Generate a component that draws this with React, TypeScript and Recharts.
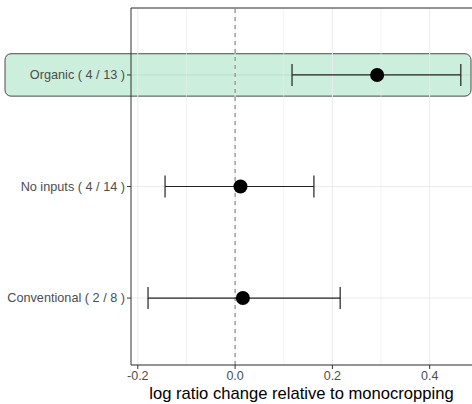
import React from "react";
import {
  ScatterChart,
  Scatter,
  XAxis,
  YAxis,
  CartesianGrid,
  ReferenceLine,
  ReferenceArea,
  ErrorBar,
  Cell,
} from "recharts";

const categories = ["Organic ( 4 / 13 )", "No inputs ( 4 / 14 )", "Conventional ( 2 / 8 )"];
const estimates = [0.292, 0.011, 0.016];
const lowers = [0.117, -0.144, -0.179];
const uppers = [0.464, 0.162, 0.216];
const pointColors = ["#000", "#000", "#000"];

const xTicks = [-0.2, 0, 0.2, 0.4];
const xGrid = [-0.2, -0.1, 0, 0.1, 0.2, 0.3, 0.4];
const highlighted = 1;

const data = categories.map((c, i) => ({
  name: c,
  pos: i + 1,
  est: estimates[i],
  err: [estimates[i] - lowers[i], uppers[i] - estimates[i]],
}));

const font = "'Liberation Sans', Arial, sans-serif";

const Highlight = (p: any) => {
  const right = p.x + p.width;
  return (
    <rect
      x={5}
      y={p.y}
      width={right - 1 - 5}
      height={p.height}
      rx={6}
      ry={6}
      fill="#00a852"
      fillOpacity={0.2}
      stroke="#4a4a4a"
      strokeWidth={1}
    />
  );
};

const YTick = (p: any) => (
  <text
    x={p.x}
    y={p.y}
    textAnchor="end"
    dominantBaseline="central"
    fill="#4d4d4d"
    fontSize={12.7}
    fontFamily={font}
  >
    {categories[p.payload.value - 1]}
  </text>
);

export default function App() {
  return (
    <div style={{ position: "absolute", left: 0, top: 0, fontFamily: font }}>
      <ScatterChart
        width={472}
        height={404}
        margin={{ top: 8, right: 0, bottom: 0, left: 0 }}
      >
        <CartesianGrid stroke="#ebebeb" vertical={false} />
        {xGrid.map((v) => (
          <ReferenceLine key={v} x={v} stroke="#ebebeb" strokeWidth={Math.round(v * 10) % 2 === 0 ? 1 : 0.6} />
        ))}
        <ReferenceLine x={0} stroke="#777" strokeDasharray="4 4" />
        <ReferenceLine y={0.4} stroke="#333" />
        <XAxis
          type="number"
          dataKey="est"
          domain={[-0.214, 0.487]}
          ticks={xTicks}
          allowDataOverflow
          tickFormatter={(v: number) => v.toFixed(1)}
          stroke="#333"
          tick={{ fill: "#4d4d4d", fontSize: 12.5, fontFamily: font }}
          tickSize={4}
          height={39}
          label={{
            value: "log ratio change relative to monocropping",
            position: "insideBottom",
            offset: 5,
            fill: "#000",
            fontSize: 16.6,
            fontFamily: font,
          }}
        />
        <YAxis
          type="number"
          dataKey="pos"
          domain={[0.4, 3.6]}
          ticks={[1, 2, 3]}
          reversed
          allowDataOverflow
          stroke="#333"
          tick={<YTick />}
          tickSize={4}
          width={131}
        />
        <Scatter
          data={data}
          isAnimationActive={false}
          shape={(p: any) => <circle cx={p.cx} cy={p.cy} r={7} fill={p.fill} />}
        >
          {data.map((d, i) => (
            <Cell key={i} fill={pointColors[i]} />
          ))}
          <ErrorBar dataKey="err" direction="x" width={11} stroke="#222" strokeWidth={1.2} />
        </Scatter>
        <ReferenceArea
          y1={highlighted - 0.19}
          y2={highlighted + 0.19}
          ifOverflow="visible"
          shape={Highlight}
        />
      </ScatterChart>
    </div>
  );
}
